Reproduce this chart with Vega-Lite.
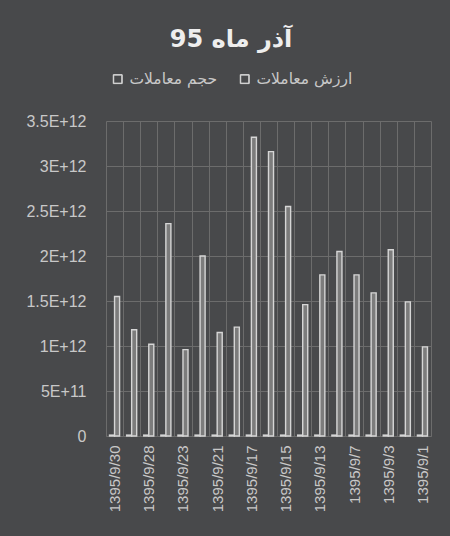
{
  "$schema": "https://vega.github.io/schema/vega-lite/v6.json",
  "width": 325,
  "height": 315,
  "autosize": {"type": "pad"},
  "padding": {"left": 11, "right": 19, "top": 28, "bottom": 19},
  "background": "#48494b",
  "title": {
    "text": "آذر ماه 95",
    "font": "DejaVu Sans",
    "fontSize": 24,
    "fontWeight": "bold",
    "color": "#eeeeee",
    "anchor": "middle",
    "frame": "bounds",
    "dx": 10,
    "offset": 15
  },
  "data": {
    "values": [
      {"date": "1395/9/30", "series": "حجم معاملات", "value": 10000000000},
      {"date": "1395/9/30", "series": "ارزش معاملات", "value": 1550000000000},
      {"date": "1395/9/29", "series": "حجم معاملات", "value": 10000000000},
      {"date": "1395/9/29", "series": "ارزش معاملات", "value": 1180000000000},
      {"date": "1395/9/28", "series": "حجم معاملات", "value": 10000000000},
      {"date": "1395/9/28", "series": "ارزش معاملات", "value": 1020000000000},
      {"date": "1395/9/27", "series": "حجم معاملات", "value": 10000000000},
      {"date": "1395/9/27", "series": "ارزش معاملات", "value": 2360000000000},
      {"date": "1395/9/23", "series": "حجم معاملات", "value": 10000000000},
      {"date": "1395/9/23", "series": "ارزش معاملات", "value": 960000000000},
      {"date": "1395/9/22", "series": "حجم معاملات", "value": 10000000000},
      {"date": "1395/9/22", "series": "ارزش معاملات", "value": 2000000000000},
      {"date": "1395/9/21", "series": "حجم معاملات", "value": 10000000000},
      {"date": "1395/9/21", "series": "ارزش معاملات", "value": 1150000000000},
      {"date": "1395/9/20", "series": "حجم معاملات", "value": 10000000000},
      {"date": "1395/9/20", "series": "ارزش معاملات", "value": 1210000000000},
      {"date": "1395/9/17", "series": "حجم معاملات", "value": 10000000000},
      {"date": "1395/9/17", "series": "ارزش معاملات", "value": 3320000000000},
      {"date": "1395/9/16", "series": "حجم معاملات", "value": 10000000000},
      {"date": "1395/9/16", "series": "ارزش معاملات", "value": 3160000000000},
      {"date": "1395/9/15", "series": "حجم معاملات", "value": 10000000000},
      {"date": "1395/9/15", "series": "ارزش معاملات", "value": 2550000000000},
      {"date": "1395/9/14", "series": "حجم معاملات", "value": 10000000000},
      {"date": "1395/9/14", "series": "ارزش معاملات", "value": 1460000000000},
      {"date": "1395/9/13", "series": "حجم معاملات", "value": 10000000000},
      {"date": "1395/9/13", "series": "ارزش معاملات", "value": 1790000000000},
      {"date": "1395/9/9", "series": "حجم معاملات", "value": 10000000000},
      {"date": "1395/9/9", "series": "ارزش معاملات", "value": 2050000000000},
      {"date": "1395/9/7", "series": "حجم معاملات", "value": 10000000000},
      {"date": "1395/9/7", "series": "ارزش معاملات", "value": 1790000000000},
      {"date": "1395/9/6", "series": "حجم معاملات", "value": 10000000000},
      {"date": "1395/9/6", "series": "ارزش معاملات", "value": 1590000000000},
      {"date": "1395/9/3", "series": "حجم معاملات", "value": 10000000000},
      {"date": "1395/9/3", "series": "ارزش معاملات", "value": 2070000000000},
      {"date": "1395/9/2", "series": "حجم معاملات", "value": 10000000000},
      {"date": "1395/9/2", "series": "ارزش معاملات", "value": 1490000000000},
      {"date": "1395/9/1", "series": "حجم معاملات", "value": 10000000000},
      {"date": "1395/9/1", "series": "ارزش معاملات", "value": 990000000000}
    ]
  },
  "mark": {"type": "bar", "fill": "#7c7c7c", "strokeWidth": 1.4},
  "encoding": {
    "x": {
      "field": "date",
      "type": "nominal",
      "sort": null,
      "scale": {"paddingInner": 0, "paddingOuter": 0},
      "axis": {
        "title": null,
        "labelAngle": -90,
        "labelFont": "Liberation Sans",
        "labelFontSize": 15,
        "labelColor": "#c8c8c8",
        "labelPadding": 9,
        "ticks": false,
        "tickBand": "extent",
        "grid": true,
        "gridColor": "#6c6c6c",
        "gridWidth": 1,
        "domainColor": "#6c6c6c",
        "labelExpr": "indexof(['1395/9/30','1395/9/28','1395/9/23','1395/9/21','1395/9/17','1395/9/15','1395/9/13','1395/9/7','1395/9/3','1395/9/1'], datum.value) >= 0 ? datum.label : ''",
        "minExtent": 90,
        "maxExtent": 90
      }
    },
    "xOffset": {
      "field": "series",
      "type": "nominal",
      "sort": ["حجم معاملات", "ارزش معاملات"],
      "scale": {"paddingInner": 0, "paddingOuter": 0.7}
    },
    "y": {
      "field": "value",
      "type": "quantitative",
      "scale": {"domain": [0, 3500000000000], "nice": false},
      "axis": {
        "title": null,
        "values": [0, 500000000000, 1000000000000, 1500000000000, 2000000000000, 2500000000000, 3000000000000, 3500000000000],
        "labelExpr": "datum.value == 0 ? '0' : replace(format(datum.value, '.2~e'), 'e', 'E')",
        "labelFont": "Liberation Sans",
        "labelFontSize": 16,
        "labelColor": "#c8c8c8",
        "labelPadding": 20,
        "ticks": false,
        "domain": false,
        "grid": true,
        "gridColor": "#6c6c6c",
        "gridWidth": 1,
        "minExtent": 95,
        "maxExtent": 95
      }
    },
    "stroke": {
      "field": "series",
      "type": "nominal",
      "scale": {"domain": ["حجم معاملات", "ارزش معاملات"], "range": ["#d6d6d6", "#d6d6d6"]},
      "legend": {
        "title": null,
        "orient": "top",
        "direction": "horizontal",
        "symbolType": "M-1,-1H1V1H-1Z M-0.9,-0.9V0.9H0.9V-0.9Z",
        "symbolSize": 80,
        "symbolStrokeWidth": 1,
        "symbolFillColor": "transparent",
        "labelFont": "DejaVu Sans",
        "labelFontSize": 15.5,
        "labelColor": "#c8c8c8",
        "columnPadding": 20,
        "offset": 29,
        "padding": 4,
        "encode": {
          "symbols": {
            "update": {"fill": {"value": "#d6d6d6"}, "stroke": {"value": "#d6d6d6"}}
          }
        }
      }
    }
  },
  "config": {"view": {"stroke": null}}
}
